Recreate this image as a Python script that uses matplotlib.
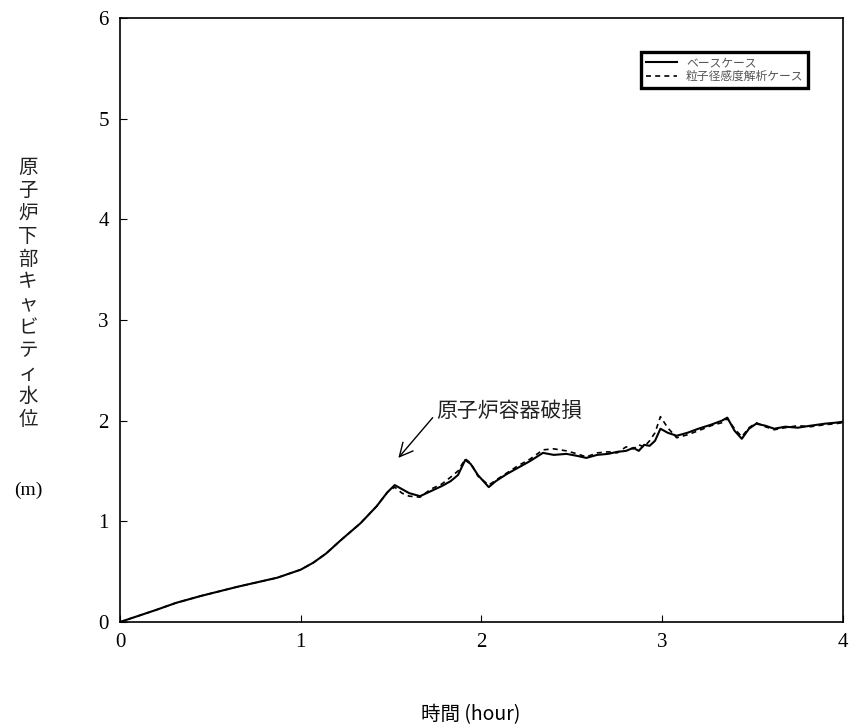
import numpy as np
import matplotlib.pyplot as plt

plt.rcParams['font.family'] = ['Liberation Serif', 'Noto Sans CJK JP']

# --- データ (ベースケース) ---
t_base = [0, 0.1, 0.2, 0.31, 0.45, 0.65, 0.87, 1.0, 1.07, 1.14, 1.22, 1.33, 1.42, 1.48,
          1.52, 1.56, 1.6, 1.66, 1.72, 1.78, 1.83, 1.87, 1.91, 1.94, 1.98, 2.04, 2.08,
          2.14, 2.2, 2.27, 2.34, 2.4, 2.47, 2.53, 2.58, 2.64, 2.7, 2.75, 2.8, 2.84, 2.87,
          2.9, 2.93, 2.96, 2.99, 3.03, 3.08, 3.14, 3.2, 3.27, 3.33, 3.36, 3.4, 3.44, 3.48,
          3.52, 3.57, 3.62, 3.68, 3.75, 3.82, 3.9, 3.96, 4.0]
h_base = [0, 0.06, 0.12, 0.19, 0.26, 0.35, 0.44, 0.52, 0.59, 0.68, 0.81, 0.98, 1.15, 1.29,
          1.36, 1.32, 1.28, 1.25, 1.30, 1.35, 1.40, 1.46, 1.61, 1.57, 1.46, 1.34, 1.40,
          1.47, 1.53, 1.60, 1.68, 1.66, 1.67, 1.65, 1.63, 1.66, 1.67, 1.69, 1.70, 1.73, 1.70,
          1.76, 1.75, 1.80, 1.92, 1.88, 1.85, 1.88, 1.92, 1.96, 2.00, 2.03, 1.90, 1.82, 1.92,
          1.97, 1.95, 1.92, 1.94, 1.93, 1.95, 1.97, 1.98, 1.99]

# --- データ (粒子径感度解析ケース) ---
t_sens = t_base
h_sens = [0, 0.06, 0.12, 0.19, 0.26, 0.35, 0.44, 0.52, 0.59, 0.68, 0.81, 0.98, 1.15, 1.29,
          1.34, 1.28, 1.25, 1.24, 1.32, 1.37, 1.44, 1.50, 1.62, 1.58, 1.45, 1.36, 1.41,
          1.48, 1.55, 1.62, 1.71, 1.72, 1.70, 1.67, 1.64, 1.68, 1.69, 1.68, 1.74, 1.72, 1.76,
          1.74, 1.80, 1.88, 2.04, 1.93, 1.83, 1.86, 1.90, 1.95, 1.98, 2.02, 1.92, 1.84, 1.93,
          1.98, 1.94, 1.91, 1.93, 1.95, 1.94, 1.96, 1.97, 1.98]

x_ticks = [0, 1, 2, 3, 4]
y_ticks = [0, 1, 2, 3, 4, 5, 6]
ylabel_text = '原子炉下部キャビティ水位'

fig = plt.figure(figsize=(8.51, 7.28), dpi=100)
ax = fig.add_axes([0.141, 0.1456, 0.8496, 0.8297])

ax.plot(t_base, h_base, color='black', lw=1.5, label='ベースケース')
ax.plot(t_sens, h_sens, color='black', lw=1.2, ls=(0, (3, 2.5)), label='粒子径感度解析ケース')

ax.set_xlim(0, 4)
ax.set_ylim(0, 6)
ax.set_xticks(x_ticks)
ax.set_yticks(y_ticks)
ax.tick_params(direction='in', length=5, labelsize=15, pad=8)
for s in ax.spines.values():
    s.set_linewidth(1.2)

# --- 注記 ---
ax.text(1.75, 2.1, '原子炉容器破損', fontsize=15, family=['Noto Sans CJK JP'],
        va='center', ha='left', color='#222222')
ax.annotate('', xy=(1.54, 1.63), xytext=(1.73, 2.03),
            arrowprops=dict(arrowstyle='->', color='black', lw=1.0,
                            mutation_scale=24, shrinkA=0, shrinkB=0))

# --- 凡例 ---
leg = ax.legend(loc='upper right', bbox_to_anchor=(0.952, 0.944), borderaxespad=0,
                fancybox=False, edgecolor='black', framealpha=1,
                prop={'family': 'Noto Sans CJK JP', 'size': 8.5},
                handlelength=2.6, labelspacing=0.05, borderpad=0.4)
leg.get_frame().set_linewidth(2.4)
for txt in leg.get_texts():
    txt.set_color('#555555')

# --- 軸ラベル ---
fig.text(0.033, 0.597, '\n'.join(ylabel_text), family=['Noto Sans CJK JP'],
         fontsize=14, ha='center', va='center', linespacing=1.12, color='#222222')
fig.text(0.033, 0.327, '(m)', family=['Liberation Serif', 'Noto Sans CJK JP'],
         fontsize=14, ha='center', va='center')
fig.text(0.553, 0.018, '時間 (hour)', family=['Noto Sans CJK JP'],
         fontsize=14, ha='center', va='center')

fig.savefig('out.png', dpi=100)
